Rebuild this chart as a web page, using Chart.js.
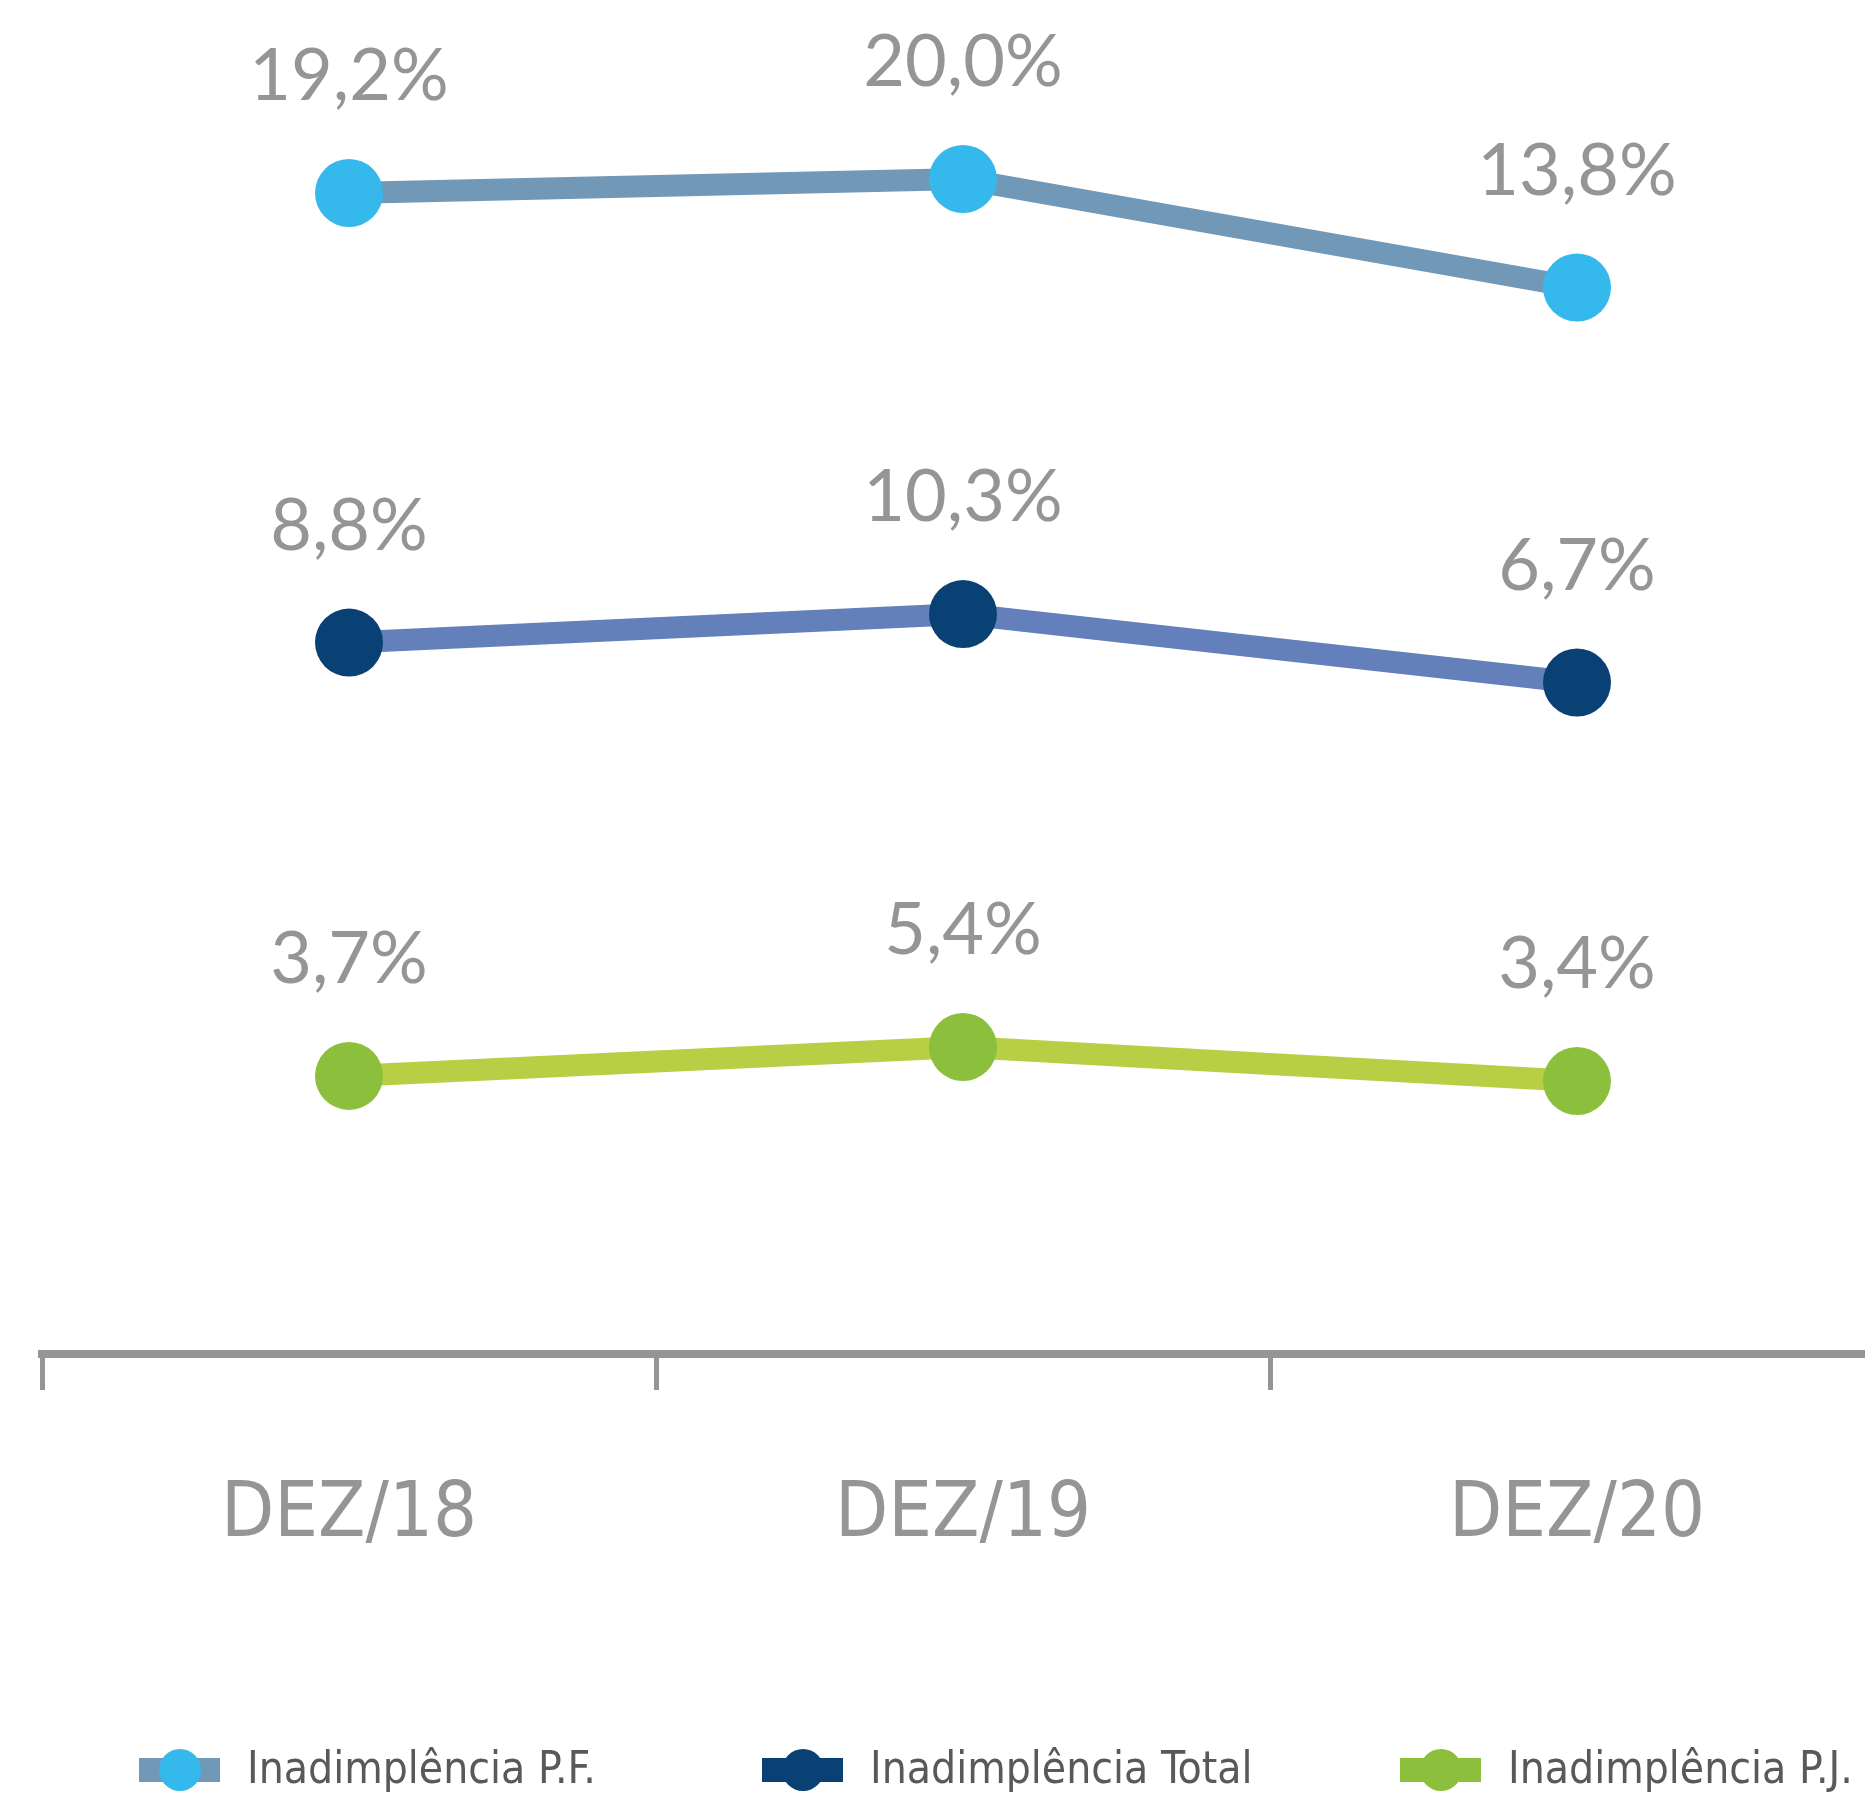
<!DOCTYPE html>
<html>
<head>
<meta charset="utf-8">
<script src="https://cdn.jsdelivr.net/npm/chart.js@4.4.1/dist/chart.umd.min.js"></script>
<style>
  html, body { margin: 0; padding: 0; background: #fff; overflow: hidden; }
  #wrap { width: 1884px; height: 1796px; }
</style>
</head>
<body>
<div id="wrap"><canvas id="inadChart" width="1884" height="1796"></canvas></div>
<script>
// Data
const categories = ['DEZ/18', 'DEZ/19', 'DEZ/20'];
const seriesNames = ['Inadimplência P.F.', 'Inadimplência Total', 'Inadimplência P.J.'];
const inadPF = [19.2, 20.0, 13.8];
const inadTotal = [8.8, 10.3, 6.7];
const inadPJ = [3.7, 5.4, 3.4];

const gray = '#959595';
const narrow = '"Liberation Sans Narrow", "DejaVu Sans Condensed", "Arial Narrow", sans-serif';
const fmt = v => v.toFixed(1).replace('.', ',') + '%';

// value labels above each point
const valueLabels = {
    id: 'valueLabels',
    afterDatasetsDraw(chart) {
        const ctx = chart.ctx;
        ctx.save();
        ctx.font = '400 72px Lato';
        ctx.fillStyle = gray;
        ctx.textAlign = 'center';
        ctx.textBaseline = 'alphabetic';
        chart.data.datasets.forEach((ds, i) => {
            chart.getDatasetMeta(i).data.forEach((pt, j) => {
                ctx.fillText(fmt(ds.data[j]), pt.x, pt.y - 93);
            });
        });
        ctx.restore();
    }
};

// legend: bar + dot swatch, fixed slots along the bottom
const swatchLegend = {
    id: 'swatchLegend',
    afterDraw(chart, args, opts) {
        const ctx = chart.ctx;
        ctx.save();
        ctx.font = '44px ' + narrow;
        ctx.textBaseline = 'middle';
        chart.data.datasets.forEach((ds, i) => {
            const x = opts.slots[i], y = opts.y;
            ctx.fillStyle = ds.legendBar;
            ctx.fillRect(x, y - 12, 81, 24);
            ctx.fillStyle = ds.pointBackgroundColor;
            ctx.beginPath();
            ctx.arc(x + 41, y, 21, 0, Math.PI * 2);
            ctx.fill();
            ctx.fillStyle = '#595959';
            ctx.fillText(ds.label, x + 108, y + 2);
        });
        ctx.restore();
    }
};

const lineStyle = {
    borderWidth: 22,
    tension: 0,
    pointRadius: 34,
    pointHoverRadius: 34,
    pointBorderWidth: 0,
    clip: false
};

const ctx = document.getElementById('inadChart').getContext('2d');
new Chart(ctx, {
    type: 'line',
    data: {
        labels: categories,
        datasets: [{
            ...lineStyle,
            label: seriesNames[0],
            data: inadPF,
            yAxisID: 'yPF',
            borderColor: '#7199b7',
            pointBackgroundColor: '#35b8eb',
            legendBar: '#7199b7'
        }, {
            ...lineStyle,
            label: seriesNames[1],
            data: inadTotal,
            yAxisID: 'yTot',
            borderColor: '#6380bb',
            pointBackgroundColor: '#0a4174',
            legendBar: '#0a4174'
        }, {
            ...lineStyle,
            label: seriesNames[2],
            data: inadPJ,
            yAxisID: 'yPJ',
            borderColor: '#b8ce45',
            pointBackgroundColor: '#8cbf3b',
            legendBar: '#8cbf3b'
        }]
    },
    options: {
        responsive: false,
        animation: false,
        events: [],
        layout: {
            autoPadding: false,
            padding: { left: 42, right: 0, top: 0, bottom: 242 }
        },
        plugins: {
            legend: { display: false },
            tooltip: { enabled: false },
            swatchLegend: { slots: [139, 762, 1400], y: 1770 }
        },
        scales: {
            x: {
                offset: true,
                grid: {
                    offset: true,
                    drawOnChartArea: false,
                    tickLength: 36,
                    tickWidth: 5,
                    tickColor: gray
                },
                border: { display: true, width: 8, color: gray },
                ticks: {
                    color: gray,
                    padding: 80,
                    font: { family: narrow, size: 77 }
                },
                afterFit(scale) { scale.height = 200; }
            },
            // each series sits in its own band, hence separate hidden axes
            yPF: { display: false, min: -47.14, max: 30.23 },
            yTot: { display: false, min: -28.64, max: 42.62 },
            yPJ: { display: false, min: -12.66, max: 66.99 }
        }
    },
    plugins: [valueLabels, swatchLegend]
});
</script>
</body>
</html>
